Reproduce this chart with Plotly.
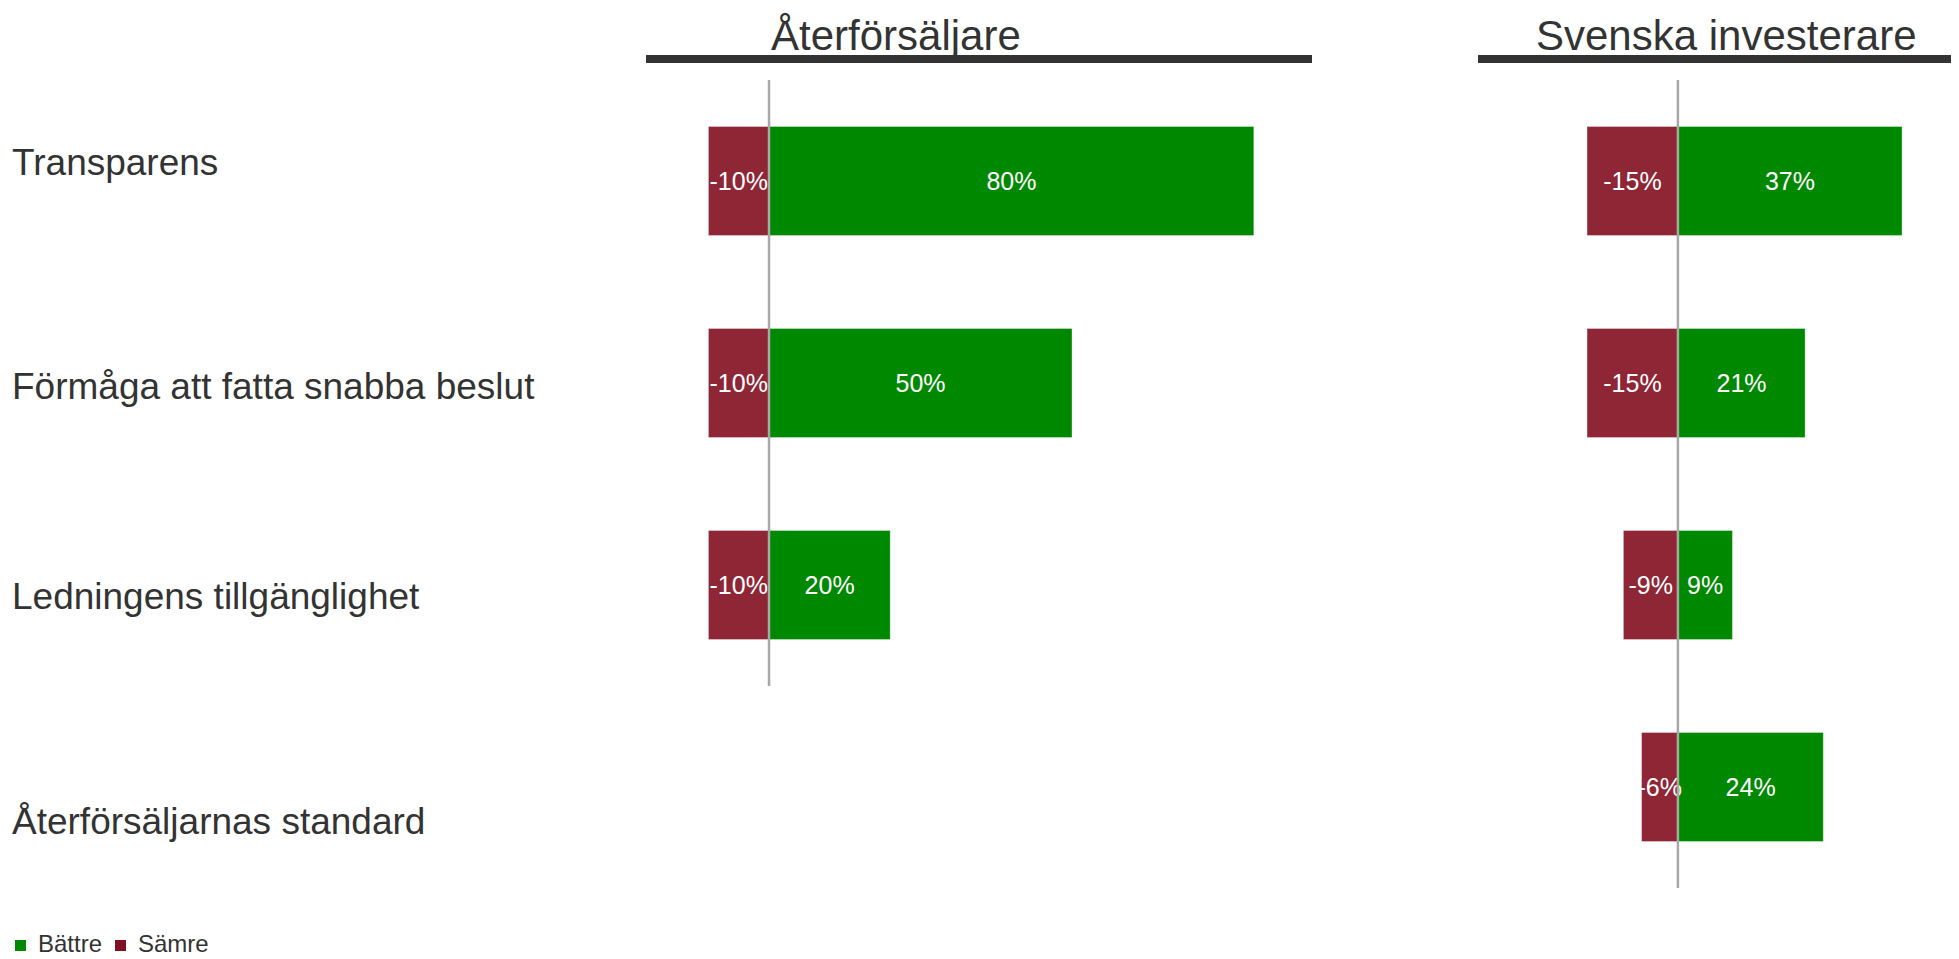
import plotly.graph_objects as go

categories = ["Transparens", "Förmåga att fatta snabba beslut",
              "Ledningens tillgänglighet", "Återförsäljarnas standard"]
panel_titles = ["Återförsäljare", "Svenska investerare"]
series_names = ["Bättre", "Sämre"]
retailer_better = [80, 50, 20, None]
retailer_worse = [-10, -10, -10, None]
investor_better = [37, 21, 9, 24]
investor_worse = [-15, -15, -9, -6]

GREEN = "#008800"
RED = "#8E2636"
LEG_RED = "#7E1024"
TXT = "#333333"
FONT = "Arial, Liberation Sans, sans-serif"

OFF = 8  # page body margin
W, H = 1959 - OFF, 959 - OFF
T, B = 80 - OFF, 71
PH = H - T - B


def py(pix):
    return 1 - (pix - OFF - T) / PH


def px(pix):
    return (pix - OFF) / W


fig = go.Figure()

panels = [
    ("x", retailer_better, retailer_worse),
    ("x2", investor_better, investor_worse),
]
for i, (xa, better, worse) in enumerate(panels):
    for name, vals, col in [(series_names[0], better, GREEN), (series_names[1], worse, RED)]:
        fig.add_trace(go.Bar(
            y=categories, x=vals, orientation="h", name=name,
            marker=dict(color=col, line=dict(color="rgba(255,255,255,0.35)", width=1)),
            width=0.54,
            text=[f"{v:.0f}%" if v is not None else "" for v in vals],
            textposition="inside", insidetextanchor="middle", textangle=0,
            textfont=dict(color="white", size=25, family=FONT),
            xaxis=xa, yaxis="y", legendgroup=name, showlegend=False,
            hoverinfo="skip",
        ))
    n = sum(v is not None for v in better)
    fig.add_shape(type="line", xref=xa, yref="y", x0=0, x1=0, y0=-0.5, y1=n - 0.5,
                  line=dict(color="#A8A8A8", width=2.5), layer="above")
    fig.add_shape(type="line", xref=f"{xa} domain", yref="paper", x0=0, x1=1,
                  y0=py(59), y1=py(59), line=dict(color=TXT, width=8))

title_x = [896, 1726]
for t, xx in zip(panel_titles, title_x):
    fig.add_annotation(text=t, xref="paper", yref="paper", x=px(xx), y=py(35),
                       xanchor="center", yanchor="middle", showarrow=False,
                       font=dict(size=42, color=TXT, family=FONT))

label_y = [162, 386, 596, 821]
for c, yy in zip(categories, label_y):
    fig.add_annotation(text=c, xref="paper", yref="paper", x=px(10), y=py(yy),
                       xanchor="left", yanchor="middle", showarrow=False,
                       font=dict(size=37, color=TXT, family=FONT))

# legend (swatch + label)
leg_x = [15, 115]
for name, col, lx in zip(series_names, [GREEN, LEG_RED], leg_x):
    fig.add_shape(type="rect", xref="paper", yref="paper",
                  x0=px(lx), x1=px(lx + 11), y0=py(951), y1=py(940),
                  fillcolor=col, line=dict(width=0))
    fig.add_annotation(text=name, xref="paper", yref="paper", x=px(lx + 21), y=py(943),
                       xanchor="left", yanchor="middle", showarrow=False,
                       font=dict(size=24, color=TXT, family=FONT))

fig.update_layout(
    width=W, height=H,
    margin=dict(l=0, r=0, t=T, b=B, autoexpand=False),
    barmode="relative",
    plot_bgcolor="white", paper_bgcolor="white",
    uniformtext=dict(minsize=25, mode="show"),
    font=dict(family=FONT, color=TXT),
    xaxis=dict(domain=[px(646), px(1312)], range=[-20.3, 89.6], visible=False, anchor="y"),
    xaxis2=dict(domain=[px(1478), 1.0], range=[-33.0, 46.4], visible=False, anchor="y"),
    yaxis=dict(categoryorder="array", categoryarray=categories, range=[3.5, -0.5],
               visible=False),
    showlegend=False,
)

fig.write_html("out.html")
